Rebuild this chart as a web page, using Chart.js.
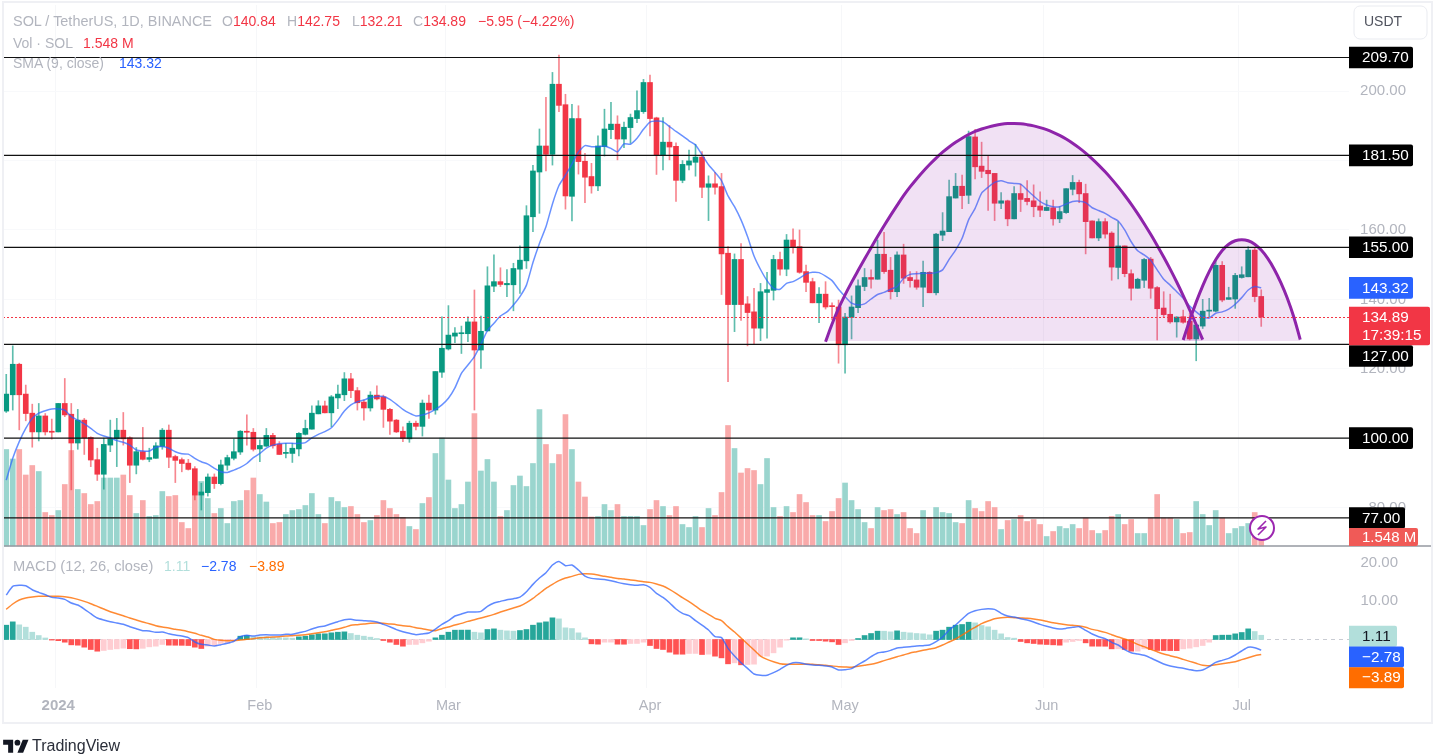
<!DOCTYPE html>
<html><head><meta charset="utf-8"><title>SOL / TetherUS</title>
<script src="https://cdn.jsdelivr.net/npm/chart.js@4"></script>
<style>
html,body{margin:0;padding:0;background:#fff;width:1436px;height:756px;overflow:hidden}
canvas{position:absolute;left:0;top:0}
.t{position:absolute;white-space:nowrap;font:14px "Liberation Sans",sans-serif;color:#b2b5be;line-height:18px;height:18px;z-index:2}
.r{color:#f23645}.b{color:#2962ff}.o{color:#ff6d00}.g{color:#b2dfdb}
</style></head><body>
<canvas id="c" width="1436" height="756"></canvas>
<div class="t" style="left:13px;top:12px;font-size:14.45px">SOL / TetherUS, 1D, BINANCE</div>
<div class="t" style="left:222px;top:12px">O<span class="r">140.84</span></div>
<div class="t" style="left:287px;top:12px">H<span class="r">142.75</span></div>
<div class="t" style="left:352px;top:12px">L<span class="r">132.21</span></div>
<div class="t" style="left:413px;top:12px">C<span class="r">134.89</span></div>
<div class="t r" style="left:478px;top:12px">−5.95 (−4.22%)</div>
<div class="t" style="left:13px;top:34px">Vol · SOL</div>
<div class="t r" style="left:83px;top:34px">1.548 M</div>
<div class="t" style="left:13px;top:54px">SMA (9, close)</div>
<div class="t b" style="left:119px;top:54px">143.32</div>
<div class="t" style="left:13px;top:557px;font-size:14.7px">MACD (12, 26, close)</div>
<div class="t g" style="left:164px;top:557px">1.11</div>
<div class="t b" style="left:201px;top:557px">−2.78</div>
<div class="t o" style="left:249px;top:557px">−3.89</div>
<svg style="position:absolute;left:3px;top:737px;z-index:2" width="26" height="20" viewBox="0 0 36 28"><path fill="#131722" d="M14 22H7V11H0V4h14v18zM28 22h-8l7.5-18h8L28 22z"/><circle fill="#131722" cx="20" cy="8" r="4"/></svg>
<div class="t" style="left:32px;top:737px;color:#2a2e39;font-size:16px">TradingView</div>
<script>
const startDate = "2023-12-24";
const slotCount = 207;
const monthTicks = {"2024-01-01":"2024","2024-02-01":"Feb","2024-03-01":"Mar","2024-04-01":"Apr","2024-05-01":"May","2024-06-01":"Jun","2024-07-01":"Jul"};
const priceTicks = [80,100,120,140,160,180,200];
const macdTicks = [10,20];
const priceLevels = [209.70,181.50,155.00,127.00,100.00,77.00];
const lastPrice = 134.89, lastSma = 143.32, lastVol = 1.548, lastHist = 1.11, lastMacd = -2.78, lastSignal = -3.89;
const cupBase = 128.0;

const opens = [107.8,112.5,121.3,112.7,107.2,101.8,106.4,102.0,101.8,110.0,
106.9,98.6,105.2,100.2,93.8,89.6,98.0,99.8,102.3,100.1,
92.2,96.1,93.9,94.2,97.6,102.3,94.7,93.8,92.8,91.2,
83.6,84.3,88.8,86.9,92.2,94.2,96.0,102.0,101.7,96.9,
97.7,100.8,98.3,95.6,95.6,96.9,101.1,102.6,107.0,109.3,
107.3,111.6,112.5,117.1,113.7,110.4,108.7,112.4,111.9,108.3,
105.2,102.0,99.8,104.3,103.4,110.1,108.1,119.0,125.7,129.4,
130.1,130.1,133.5,125.4,130.9,143.8,145.1,144.2,144.2,148.7,
151.1,163.8,176.7,184.2,181.8,202.0,196.1,169.7,192.1,179.8,
175.4,172.7,184.0,188.9,190.5,186.2,189.5,192.1,194.1,202.5,
192.3,181.7,185.3,184.1,174.3,178.7,179.5,181.0,172.3,173.3,
172.5,153.3,138.5,151.5,138.7,136.4,131.7,142.0,142.6,151.5,
148.7,157.1,155.2,148.0,145.1,139.0,141.5,138.1,137.8,126.9,
134.8,137.6,143.7,146.3,145.8,153.0,148.4,142.2,152.8,146.3,
145.6,143.5,147.8,141.9,158.5,159.5,169.2,172.6,170.0,186.8,
178.4,177.2,176.3,167.7,168.4,163.2,170.5,169.1,168.4,166.9,
165.6,166.4,163.2,165.0,171.7,173.7,170.5,162.6,157.7,162.4,
159.1,149.2,155.4,147.4,143.2,145.5,151.6,143.4,137.5,135.7,
133.5,135.0,133.7,128.6,132.3,136.6,136.6,149.8,140.0,140.1,
146.3,146.5,154.2,140.84];
const closes = [112.7,121.3,112.5,107.1,101.8,106.4,101.8,101.7,110.0,106.7,
98.6,105.2,100.1,93.7,89.6,98.2,99.8,102.3,99.8,92.2,
96.1,93.9,94.4,97.8,102.3,94.5,93.6,92.7,91.0,83.6,
84.5,88.8,86.9,92.3,94.4,96.1,102.0,101.7,96.8,97.9,
100.8,97.8,95.3,95.9,97.1,101.4,102.8,107.2,109.3,107.3,
111.9,112.7,117.1,113.7,110.2,108.7,112.4,111.3,108.3,104.9,
101.8,99.9,104.3,103.4,110.1,108.1,119.2,125.9,129.7,130.3,
130.2,133.5,125.4,130.8,143.9,145.1,144.3,144.6,148.9,151.3,
164.1,177.0,184.2,181.8,202.0,195.9,169.8,192.1,179.7,175.2,
172.7,184.2,189.1,190.5,186.2,189.6,192.4,194.4,202.5,192.1,
181.7,185.3,183.9,174.3,178.9,179.9,181.0,172.3,173.3,172.3,
153.1,138.5,151.5,138.5,136.2,131.7,142.2,142.8,151.5,148.7,
157.1,154.9,147.8,144.9,139.0,141.5,137.8,137.9,126.9,134.9,
137.8,143.9,146.3,145.8,153.0,148.0,142.2,152.8,146.1,145.4,
143.5,147.8,141.9,158.8,159.7,169.6,172.6,169.9,186.9,178.2,
176.9,176.2,167.7,168.4,163.2,170.5,168.8,168.2,166.7,165.7,
166.5,163.2,165.3,171.9,173.7,170.4,162.4,157.7,162.4,158.8,
149.3,155.4,147.4,143.2,145.8,151.5,143.2,137.3,135.6,133.5,
134.9,133.4,128.6,132.6,136.6,136.9,149.8,139.8,140.5,146.9,
147.1,154.2,140.8,134.89];
const highs = [118.4,126.6,121.6,115.3,109.8,110.0,107.1,105.5,110.0,117.2,
110.0,108.3,105.7,100.4,97.1,100.0,105.2,105.7,107.4,100.4,
97.3,103.1,97.1,98.7,102.8,103.8,95.1,94.3,93.9,91.8,
87.0,89.7,89.7,93.7,95.1,99.7,102.2,106.7,102.8,99.5,
102.8,101.4,99.0,98.5,98.5,101.6,105.2,109.3,110.8,110.7,
112.3,115.3,118.9,118.7,114.6,111.0,113.4,115.1,112.4,108.6,
105.4,103.3,104.9,104.9,111.0,112.4,119.2,135.0,138.2,131.9,
132.3,135.0,142.7,135.2,149.4,152.8,149.1,148.6,150.4,155.4,
167.0,178.6,189.1,198.2,205.4,210.4,199.1,196.2,195.8,182.1,
179.2,187.1,194.8,196.8,192.9,191.1,193.4,200.1,203.4,204.6,
192.5,192.4,190.1,185.1,180.0,183.0,184.7,182.6,175.6,176.6,
176.3,155.2,153.1,156.1,140.8,143.2,144.6,147.8,152.7,153.6,
158.7,160.3,160.0,149.9,146.1,143.4,145.1,139.0,139.8,136.0,
141.0,145.6,148.9,148.5,157.1,159.3,152.1,153.7,155.9,148.0,
148.0,151.0,148.0,159.0,165.0,174.4,176.3,175.8,188.5,189.0,
185.3,181.3,176.3,170.8,168.6,172.5,173.2,174.2,173.0,171.0,
168.6,168.6,166.7,171.9,175.7,174.4,173.2,162.6,163.2,163.3,
159.5,162.4,155.4,148.5,146.1,151.8,152.1,143.7,142.2,141.5,
135.0,136.9,136.0,132.6,140.0,140.3,151.3,150.9,143.5,147.5,
149.4,155.2,155.0,142.75];
const lows = [107.4,108.1,102.4,105.0,97.4,99.2,100.9,99.7,101.8,106.2,
85.1,96.8,95.3,91.8,87.8,85.3,96.1,91.8,98.0,87.2,
89.7,93.7,93.2,94.2,96.8,91.5,87.2,90.3,90.8,82.2,
79.3,83.3,85.5,86.5,90.8,93.7,95.3,98.0,96.3,93.2,
97.6,97.1,95.3,94.3,93.0,94.9,100.9,102.6,107.0,107.3,
103.3,108.5,110.8,111.7,108.1,105.2,107.8,111.0,103.1,101.1,
101.6,99.0,98.8,102.4,100.6,105.7,106.9,117.5,125.4,127.5,
124.4,127.8,108.1,120.1,130.9,142.2,143.7,140.8,136.7,141.7,
148.9,159.5,164.8,177.0,178.7,194.1,166.0,162.6,176.1,167.9,
170.6,171.3,181.3,186.3,180.2,183.7,185.0,190.9,193.6,187.1,
176.0,177.3,180.2,168.2,173.6,177.3,175.5,169.3,162.7,170.3,
141.4,116.3,130.7,133.9,126.6,127.0,128.1,128.8,139.8,147.0,
146.8,153.3,147.5,142.2,139.0,133.3,137.2,134.1,121.6,118.7,
128.6,136.2,142.5,143.2,145.8,147.5,140.1,140.8,144.6,143.5,
142.9,137.9,141.9,141.3,156.9,159.5,169.2,166.1,167.6,174.7,
175.1,165.6,162.7,166.1,161.2,163.2,165.3,167.2,163.8,163.8,
165.6,161.4,162.1,164.8,170.1,167.9,153.1,157.7,156.9,157.6,
145.5,145.9,146.5,139.8,143.2,143.4,140.3,128.3,134.8,133.1,
129.1,133.1,128.3,122.3,131.6,135.0,136.4,139.3,140.0,137.4,
146.1,146.5,139.3,132.21];
const sma9 = [87.9,94.2,99.0,102.8,105.7,107.2,107.9,108.4,108.4,108.1,
106.2,105.2,104.1,102.8,101.4,100.6,100.1,99.3,98.8,98.0,
96.6,96.3,96.3,97.4,97.6,97.1,96.1,95.5,95.4,94.2,
93.2,92.5,91.3,90.3,90.1,90.8,91.6,92.7,94.4,95.6,
97.1,98.0,98.4,98.5,98.5,98.5,98.7,100.1,101.1,101.9,
103.0,105.2,107.8,109.6,110.5,111.0,111.7,112.0,112.0,111.2,
109.8,108.3,107.2,106.4,106.7,107.3,108.3,109.6,111.5,114.5,
118.7,121.1,123.5,127.1,131.0,133.1,135.2,136.4,138.4,140.8,
144.1,150.6,156.1,160.9,167.5,172.8,175.8,179.0,182.5,184.3,
184.0,184.0,184.2,183.5,182.5,184.8,184.7,186.4,189.0,191.1,
191.4,191.2,189.8,188.4,187.1,185.7,184.5,181.7,178.8,176.6,
174.2,169.8,166.7,162.9,158.1,152.5,148.6,145.4,143.2,142.9,
144.6,145.1,146.1,147.3,147.8,147.7,146.7,145.4,142.9,140.8,
138.9,138.4,138.7,140.1,141.4,142.0,142.9,143.7,146.1,147.2,
147.4,147.5,147.5,147.7,148.5,151.5,154.2,157.6,162.9,166.2,
170.6,172.3,173.7,174.2,173.6,173.4,173.2,171.5,169.8,168.2,
167.2,166.7,166.7,167.5,168.2,168.3,167.9,166.4,165.6,164.8,
163.6,162.6,160.0,156.6,154.0,152.8,151.3,148.5,145.8,144.1,
142.2,140.3,138.1,136.4,135.0,134.6,136.0,136.4,137.2,138.6,
140.5,142.7,143.7,143.32];
const volumes = [19.3,17.4,19.3,14.2,16.1,14.9,6.7,6.1,7.1,12.3,
19.1,11.3,10.5,8.3,8.9,13.6,13.6,13.6,14.2,10.1,
6.5,9.1,5.9,6.1,10.9,9.9,10.1,4.7,3.5,11.0,
12.9,9.5,6.5,7.5,4.5,8.9,9.1,11.1,13.6,10.3,
8.8,4.5,4.7,6.3,7.1,7.3,8.1,10.5,6.3,4.5,
9.7,8.9,7.7,7.9,6.3,4.7,5.1,6.1,9.1,7.5,
6.3,5.7,3.9,3.3,8.5,9.7,18.5,21.6,13.2,7.5,
8.3,12.8,26.5,15.0,17.3,12.8,5.9,7.1,12.1,14.0,
11.9,16.5,27.3,20.3,16.5,18.3,26.3,19.3,12.8,9.8,
5.8,5.9,8.3,7.1,8.3,5.9,5.9,5.9,4.1,7.3,
9.1,7.9,6.1,7.9,4.3,3.7,5.9,3.7,7.5,6.1,
10.7,24.1,19.5,14.6,15.5,15.1,12.3,17.5,7.7,5.9,
7.9,6.7,10.3,8.7,6.1,6.1,4.9,6.9,9.5,12.6,
9.1,7.3,4.7,3.5,7.7,7.1,7.3,6.3,6.7,3.5,
2.5,7.1,5.7,7.7,6.7,6.5,4.7,4.5,9.1,7.5,
6.9,8.9,7.7,3.3,5.1,5.3,6.1,4.9,5.3,4.3,
1.9,2.9,3.9,3.5,4.3,3.5,5.6,3.1,2.5,3.1,
5.9,6.3,4.3,5.3,2.5,2.5,5.6,10.3,5.6,5.6,
5.3,2.5,2.7,8.9,6.3,4.1,7.1,5.6,2.5,3.5,
3.9,4.5,6.7,1.548];
const macdLine = [11.61,13.88,14.14,14.05,13.0,12.31,11.7,11.0,10.83,10.48,
9.53,9.0,7.96,6.74,5.61,5.09,4.65,4.31,3.96,3.35,
2.83,2.31,2.22,1.87,1.96,1.52,1.17,0.91,0.48,-0.65,
-1.26,-1.44,-1.7,-1.35,-1.0,-0.48,0.74,1.09,0.91,1.17,
1.26,1.17,1.17,1.35,1.35,1.78,2.13,2.74,3.26,3.52,
4.13,4.65,5.18,5.26,5.0,4.92,4.83,4.57,3.96,3.35,
2.57,2.04,1.61,1.26,1.44,1.7,2.74,3.96,4.92,6.13,
6.66,7.18,7.18,7.35,8.66,9.53,9.96,10.4,10.66,11.09,
12.48,14.4,16.05,17.44,19.44,20.4,19.27,19.44,18.14,16.57,
15.96,15.79,15.7,15.36,14.92,14.57,14.31,14.14,14.31,13.62,
12.05,11.0,9.61,7.96,6.83,6.22,4.92,3.78,2.48,0.74,
0.48,-2.31,-4.31,-6.05,-7.53,-9.0,-9.35,-9.35,-8.66,-7.79,
-6.74,-6.05,-6.05,-6.48,-6.66,-6.74,-6.92,-7.18,-7.96,-7.87,
-7.61,-6.57,-5.61,-4.48,-3.52,-3.26,-2.83,-2.22,-2.04,-1.87,
-1.7,-1.61,-1.44,-0.57,0.65,2.48,3.78,5.35,6.83,7.53,
7.87,8.05,7.87,6.83,6.13,5.87,5.44,5.09,4.57,3.96,
3.44,3.0,2.74,2.91,3.18,3.35,2.39,1.44,0.74,0.22,
-0.74,-1.44,-2.65,-3.44,-3.78,-4.13,-4.83,-5.61,-6.39,-6.92,
-7.26,-7.53,-7.87,-8.13,-7.96,-7.09,-5.96,-5.44,-4.92,-4.05,
-3.0,-2.04,-2.13,-2.78];
const signalLine = [7.87,9.27,10.31,10.83,11.09,11.27,11.27,11.27,11.27,11.18,
10.92,10.48,9.96,9.35,8.66,7.96,7.26,6.74,6.22,5.61,
5.09,4.57,4.13,3.61,3.26,3.0,2.65,2.39,2.04,1.61,
1.09,0.65,0.04,-0.22,-0.3,-0.3,-0.13,0.04,0.22,0.48,
0.57,0.65,0.74,0.91,1.0,1.09,1.26,1.52,1.78,2.04,
2.39,2.74,3.18,3.7,3.87,4.05,4.22,4.31,4.22,4.05,
3.87,3.61,3.44,3.09,2.83,2.48,2.31,2.83,3.26,3.78,
4.22,4.74,5.18,5.61,6.05,6.57,7.18,7.7,8.22,8.74,
9.61,10.74,12.05,13.35,14.4,15.36,16.05,16.49,17.01,17.18,
17.1,16.83,16.49,16.23,15.96,15.79,15.53,15.36,15.09,14.92,
14.49,13.96,13.09,12.05,10.92,9.87,8.74,7.53,6.57,5.52,
4.92,3.35,1.96,0.39,-1.17,-2.74,-4.31,-5.18,-5.79,-6.31,
-6.48,-6.48,-6.48,-6.39,-6.48,-6.57,-6.74,-6.92,-7.09,-7.18,
-7.26,-7.0,-6.74,-6.48,-6.05,-5.52,-5.0,-4.48,-4.05,-3.52,
-3.18,-2.83,-2.48,-2.13,-1.44,-0.65,0.13,1.17,2.22,3.18,
4.13,4.83,5.44,5.7,5.79,5.7,5.61,5.52,5.35,5.09,
4.74,4.39,4.13,3.87,3.7,3.52,3.18,2.65,2.31,1.87,
1.26,0.65,0.13,-0.48,-1.26,-1.87,-2.57,-3.18,-3.78,-4.22,
-4.65,-5.18,-5.7,-6.22,-6.74,-6.83,-6.57,-6.31,-6.05,-5.79,
-5.26,-4.74,-4.22,-3.89];
const histogram = [3.74,4.61,3.83,3.22,1.91,1.04,0.4,-0.15,-0.3,-0.7,
-1.39,-1.48,-2.0,-2.61,-3.05,-2.87,-2.61,-2.44,-2.26,-2.4,
-2.45,-2.3,-1.91,-1.74,-1.3,-1.48,-1.5,-1.52,-1.57,-2.0,
-2.35,-1.74,-1.57,-1.04,-0.87,-0.26,0.87,1.04,0.7,0.69,
0.68,0.52,0.44,0.43,0.35,0.7,0.87,1.22,1.48,1.49,
1.74,1.91,2.0,1.57,1.13,0.87,0.61,0.26,-0.26,-0.7,
-1.3,-1.74,-1.3,-1.29,-0.87,-0.44,0.44,1.13,1.91,2.44,
2.45,2.46,1.91,1.74,2.61,2.78,2.44,2.26,2.18,2.35,
2.61,3.74,4.35,4.61,5.66,5.39,3.05,2.87,1.74,0.44,
-1.13,-1.22,-0.7,-0.69,-1.22,-1.23,-1.04,-1.03,-0.7,-1.57,
-2.35,-2.61,-3.31,-3.83,-3.84,-3.65,-3.64,-3.92,-3.83,-4.35,
-4.79,-6.35,-6.09,-6.61,-6.53,-6.44,-4.35,-4.34,-3.48,-2.0,
-0.17,0.44,0.45,0.17,-0.26,-0.27,-0.44,-0.61,-1.3,-0.87,
-0.26,0.26,1.04,1.57,2.18,2.17,2.0,2.26,1.91,1.74,
1.57,1.48,1.22,2.18,2.44,3.22,3.74,3.92,4.52,4.35,
3.65,3.31,2.44,1.48,0.52,0.35,-0.52,-0.87,-1.04,-1.22,
-1.3,-1.39,-1.48,-0.7,-0.52,-0.26,-0.87,-1.74,-1.75,-1.76,
-2.44,-2.43,-2.61,-3.05,-3.04,-2.44,-2.61,-2.87,-2.88,-2.89,
-2.9,-2.44,-2.26,-1.91,-1.57,-0.7,1.04,1.13,1.14,1.48,
1.83,2.78,2.09,1.11];
const cupLeftFrom = 126;
const cupLeft = [127.8,132.9,137.4,141.3,144.9,148.3,151.6,154.9,158.1,161.2,
164.2,167.1,169.9,172.4,174.7,176.85,178.85,180.7,182.4,183.9,
185.25,186.45,187.5,188.4,189.1,189.65,190.1,190.45,190.65,190.7,
190.6,190.35,190.0,189.5,188.9,188.15,187.25,186.2,185.0,183.65,
182.15,180.5,178.7,176.75,174.65,172.4,170.0,167.45,164.7,161.8,
158.75,155.55,152.2,148.7,145.0,141.1,137.0,132.75,128.4];
const cupRightFrom = 181;
const cupRight = [128.3,133.9,139.2,143.9,148.0,151.4,154.1,155.9,156.9,157.2,
156.9,155.9,154.2,151.8,148.7,144.9,140.4,135.0,128.4];

/* categories: one slot per trading day, running past the last candle */
const categories = [];
{ const d0 = new Date(startDate + "T00:00:00Z");
  for (let i = 0; i < slotCount; i++) categories.push(new Date(d0.getTime() + i * 864e5).toISOString().slice(0, 10)); }

const UP = "#089981", DOWN = "#f23645";
const isUp = opens.map((o, i) => closes[i] >= o);
const FONT = '"Liberation Sans", sans-serif';
const histColor = histogram.map((h, i) => {
  const prev = i ? histogram[i - 1] : 0;
  return h >= 0 ? (h >= prev ? "#26a69a" : "#b2dfdb") : (h <= prev ? "#ff5252" : "#ffcdd2");
});

function tag(ctx, x0, x1, yc, h, bg, lines, fg, font) {
  ctx.fillStyle = bg;
  ctx.beginPath(); ctx.roundRect(x0, yc - h / 2, x1 - x0, h, [0, 2, 2, 0]); ctx.fill();
  ctx.fillStyle = fg; ctx.font = font || ("15.3px " + FONT); ctx.textBaseline = "middle"; ctx.textAlign = "left";
  lines.forEach(l => ctx.fillText(l[0], x0 + 13, l[1]));
}

const overlay = {
  id: "overlay",
  beforeDatasetsDraw(chart) {
    const { ctx, chartArea: a, scales } = chart;
    const y0 = scales.yMacd.getPixelForValue(0);
    ctx.save(); ctx.strokeStyle = "#c9ccd3"; ctx.lineWidth = 1; ctx.setLineDash([4, 4]);
    ctx.beginPath(); ctx.moveTo(a.left, y0); ctx.lineTo(1349, y0); ctx.stroke(); ctx.restore();
  },
  afterDraw(chart) {
    const { ctx, chartArea: a, scales } = chart;
    const P = v => scales.y.getPixelForValue(v);
    const R = a.right;
    ctx.save();
    /* horizontal levels */
    ctx.strokeStyle = "#111"; ctx.lineWidth = 1.2;
    priceLevels.forEach(v => { ctx.beginPath(); ctx.moveTo(a.left, P(v)); ctx.lineTo(R, P(v)); ctx.stroke(); });
    /* last price */
    ctx.strokeStyle = "#f23645"; ctx.lineWidth = 1; ctx.setLineDash([2, 2]);
    ctx.beginPath(); ctx.moveTo(a.left, Math.round(P(lastPrice)) + .5); ctx.lineTo(R, Math.round(P(lastPrice)) + .5); ctx.stroke();
    ctx.setLineDash([]);
    /* pane separator and frame */
    const sep = scales.yVol.getPixelForValue(0);
    ctx.strokeStyle = "#9598a1"; ctx.lineWidth = 1.6;
    ctx.beginPath(); ctx.moveTo(a.left, sep); ctx.lineTo(1432, sep); ctx.stroke();
    ctx.strokeStyle = "#eff0f4"; ctx.lineWidth = 2;
    ctx.strokeRect(3, 2, 1429, 721);
    /* lightning icon */
    const lx = 1262, ly = 528;
    ctx.fillStyle = "#fff"; ctx.strokeStyle = "#9c27b0"; ctx.lineWidth = 2;
    ctx.beginPath(); ctx.arc(lx, ly, 12, 0, Math.PI * 2); ctx.fill(); ctx.stroke();
    ctx.lineWidth = 1.6; ctx.lineJoin = "round";
    ctx.beginPath(); ctx.moveTo(lx + 4, ly - 7); ctx.lineTo(lx - 4, ly + 1); ctx.lineTo(lx + 4, ly - 1); ctx.lineTo(lx - 4, ly + 7); ctx.stroke();
    /* price tags (the 127 tag is pushed below the last-price tag) */
    priceLevels.forEach(v => {
      const y = v === 127 ? 356 : P(v);
      tag(ctx, R, v === 77 ? 1405 : 1413, y, 21.6, "#000", [[v.toFixed(2), y + .5]], "#fff");
    });
    const ys = P(lastSma);
    tag(ctx, R, 1413, ys, 21.6, "#2962ff", [[lastSma.toFixed(2), ys + .5]], "#fff");
    const yp = P(lastPrice);
    tag(ctx, R, 1430, yp + 9, 38.5, "#f23645", [[lastPrice.toFixed(2), yp + .5], ["17:39:15", yp + 19]], "#fff");
    tag(ctx, R, 1418, 537, 18, "#f05a57", [["1.548 M", 537.5]], "#fff", "15px " + FONT);
    tag(ctx, R, 1397, 636.2, 21, "#b2dfdb", [[lastHist.toFixed(2), 636.7]], "#131722");
    tag(ctx, R, 1404, 657, 21, "#2962ff", [["−" + Math.abs(lastMacd).toFixed(2), 657.5]], "#fff");
    tag(ctx, R, 1404, 677.7, 21, "#ff6d00", [["−" + Math.abs(lastSignal).toFixed(2), 678.2]], "#fff");
    /* currency button */
    ctx.fillStyle = "#fff"; ctx.strokeStyle = "#e9ebf0"; ctx.lineWidth = 1;
    ctx.beginPath(); ctx.roundRect(1354, 6, 73, 33, 6); ctx.fill(); ctx.stroke();
    ctx.fillStyle = "#50535e"; ctx.font = "14px " + FONT; ctx.textAlign = "center"; ctx.textBaseline = "middle";
    ctx.fillText("USDT", 1383, 22.5);
    ctx.restore();
  }
};

const zeroAxis = s => { s.width = 0; s.paddingTop = 0; s.paddingBottom = 0; s.paddingLeft = 0; s.paddingRight = 0; };
const tickFont = { family: FONT, size: 15 };

new Chart(document.getElementById("c"), {
  data: {
    labels: categories,
    datasets: [
      { type: "bar", label: "Volume", yAxisID: "yVol", data: volumes, order: 10, barThickness: 5,
        backgroundColor: isUp.map(u => u ? "#9ad5ce" : "#f9aaaa") },
      { type: "bar", label: "MACD histogram", yAxisID: "yMacd", data: histogram, order: 9, barThickness: 5,
        backgroundColor: histColor },
      { type: "bar", label: "Wicks", yAxisID: "y", data: lows.map((l, i) => [l, highs[i]]), order: 8, barThickness: 1,
        backgroundColor: isUp.map(u => u ? "rgba(8,153,129,.65)" : "rgba(242,54,69,.6)") },
      { type: "bar", label: "Candles", yAxisID: "y", data: opens.map((o, i) => [o, closes[i]]), order: 7, barThickness: 5, minBarLength: 1,
        backgroundColor: isUp.map(u => u ? UP : DOWN) },
      { type: "line", label: "SMA 9", yAxisID: "y", data: sma9, order: 6, borderColor: "rgba(41,98,255,.7)", borderWidth: 1.5, pointRadius: 0, tension: .2 },
      { type: "line", label: "MACD", yAxisID: "yMacd", data: macdLine, order: 5, borderColor: "rgba(41,98,255,.75)", borderWidth: 1.5, pointRadius: 0, tension: .2 },
      { type: "line", label: "Signal", yAxisID: "yMacd", data: signalLine, order: 5, borderColor: "rgba(255,109,0,.8)", borderWidth: 1.5, pointRadius: 0, tension: .2 },
      { type: "line", label: "Cup left", yAxisID: "y", data: cupLeft.map((y, k) => ({ x: categories[cupLeftFrom + k], y })), order: 4,
        borderColor: "#8e24aa", borderWidth: 3, pointRadius: 0, tension: .4, fill: { value: cupBase }, backgroundColor: "rgba(156,39,176,.14)" },
      { type: "line", label: "Cup right", yAxisID: "y", data: cupRight.map((y, k) => ({ x: categories[cupRightFrom + k], y })), order: 3,
        borderColor: "#8e24aa", borderWidth: 3, pointRadius: 0, tension: .4, fill: { value: cupBase }, backgroundColor: "rgba(156,39,176,.14)" }
    ]
  },
  options: {
    responsive: false, animation: false, devicePixelRatio: 1,
    datasets: { bar: { grouped: false } },
    layout: { padding: { left: 3, top: 5, right: 87, bottom: 34 } },
    plugins: { legend: { display: false }, tooltip: { enabled: false } },
    events: [],
    scales: {
      x: { type: "category", offset: true, border: { display: false },
        grid: { drawTicks: false, color: c => (c.tick && monthTicks[categories[c.index]]) ? "#f6f7f9" : "transparent" },
        ticks: { autoSkip: false, maxRotation: 0, minRotation: 0, padding: 9, color: "#b2b5be",
          font: c => ({ family: FONT, size: monthTicks[categories[c.index]] === "2024" ? 15 : 14.5, weight: monthTicks[categories[c.index]] === "2024" ? "bold" : "normal" }),
          callback: function (v) { return monthTicks[this.getLabelForValue(v)] || ""; } },
        afterFit: s => { s.height = 34; s.paddingLeft = 0; s.paddingRight = 0; } },
      y: { type: "linear", position: "right", min: 28.0, max: 224.83, border: { display: false },
        grid: { color: "#f8f9fb", drawTicks: false },
        afterBuildTicks: s => { s.ticks = priceTicks.map(value => ({ value })); },
        ticks: { mirror: true, padding: 57, autoSkip: false, color: "#b2b5be", font: tickFont, callback: v => v.toFixed(2) },
        afterFit: zeroAxis },
      yMacd: { type: "linear", position: "right", min: -12.66, max: 165.67, border: { display: false },
        grid: { display: false },
        afterBuildTicks: s => { s.ticks = macdTicks.map(value => ({ value })); },
        ticks: { mirror: true, padding: 49, autoSkip: false, color: "#b2b5be", font: tickFont, callback: v => v.toFixed(2) },
        afterFit: zeroAxis },
      yVol: { type: "linear", display: false, min: -28.4, max: 108.2 }
    }
  },
  plugins: [overlay]
});
</script>
</body></html>
